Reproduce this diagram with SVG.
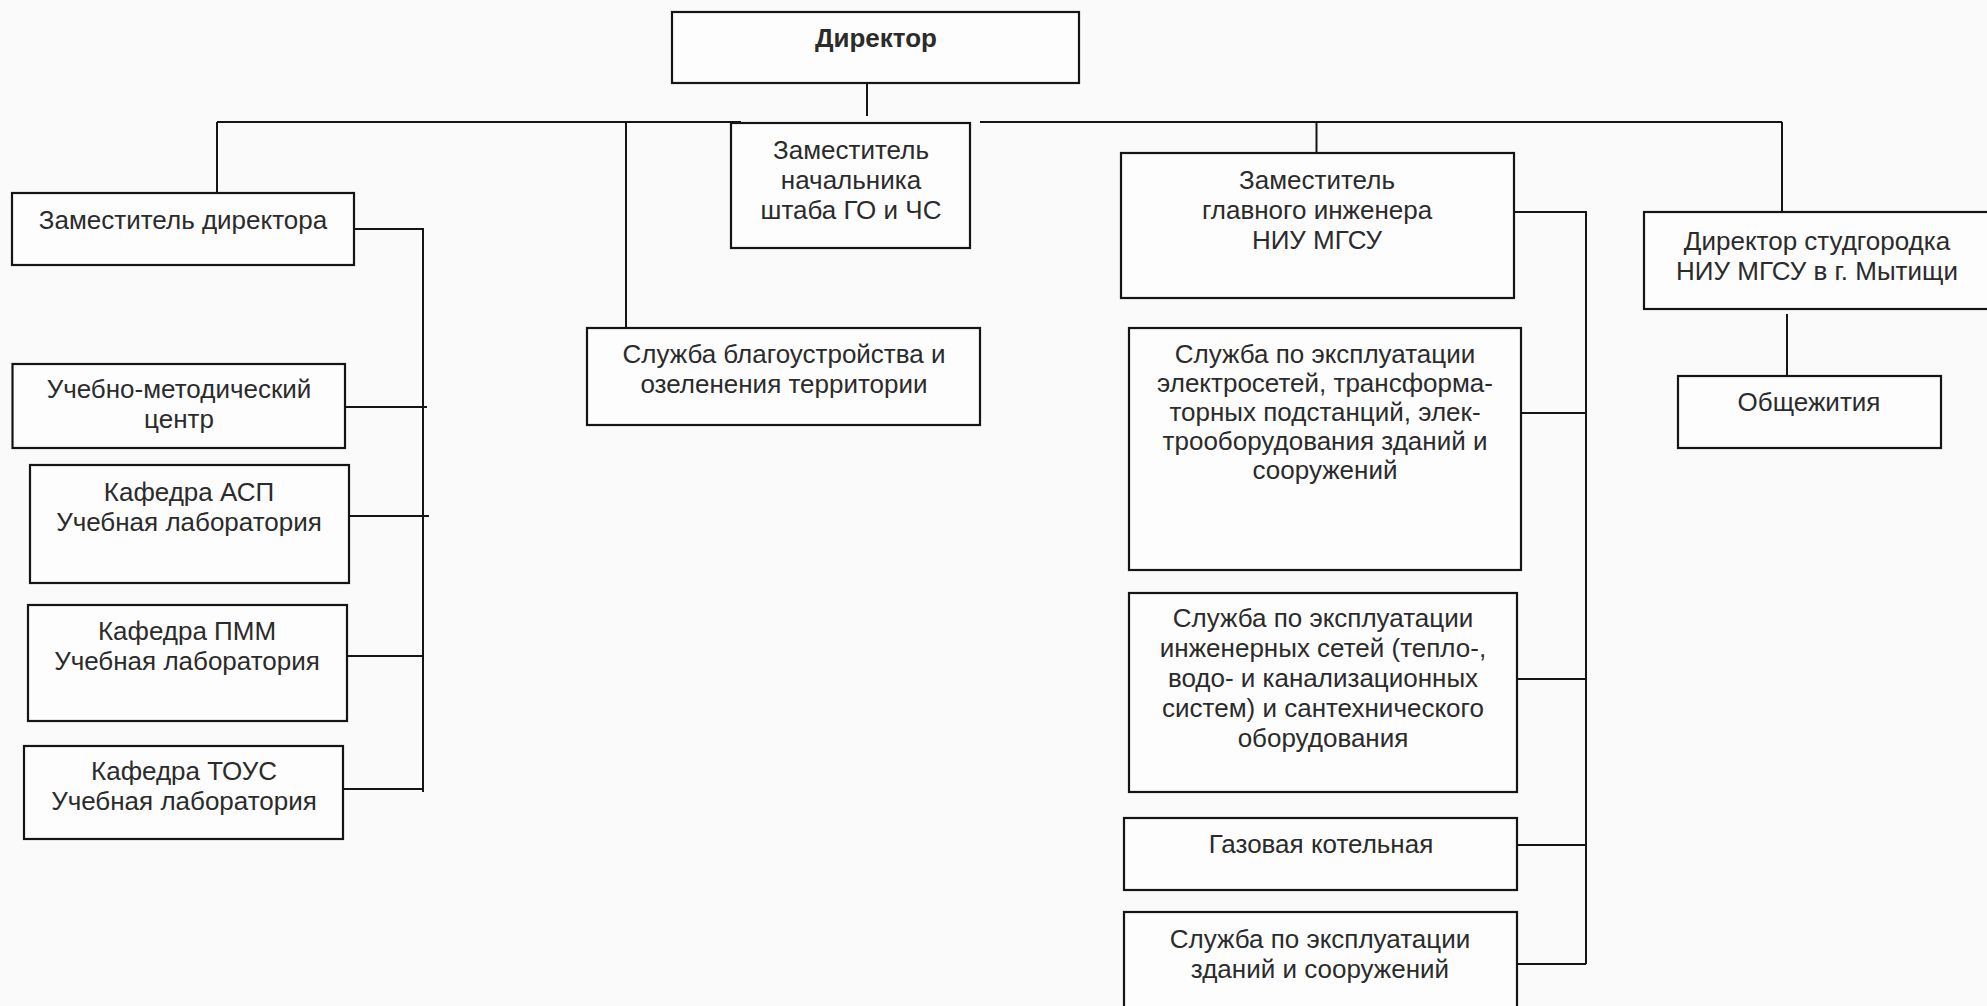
<svg xmlns="http://www.w3.org/2000/svg" width="1987" height="1006" viewBox="0 0 1987 1006">
<style>
.box{fill:#fdfdfd;stroke:#151515;stroke-width:2.2}
.t{font-family:"Liberation Sans",Arial,sans-serif;font-size:26px;fill:#2b2b2b;text-anchor:middle}
.b{font-weight:bold}
.c{fill:none;stroke:#151515;stroke-width:2}
</style>
<rect width="1987" height="1006" fill="#fafafa"/>
<g id="connectors">
<path class="c" d="M867 83 V116"/>
<path class="c" d="M217 122 H741 M980 122 H1782"/>
<path class="c" d="M217 122 V193"/>
<path class="c" d="M354 229 H423 V792"/>
<path class="c" d="M345 407 H427 M349 516 H429 M347 656 H424 M343 789 H424"/>
<path class="c" d="M626 122 V328"/>
<path class="c" d="M1316.5 122 V153"/>
<path class="c" d="M1514 212 H1586 V964"/>
<path class="c" d="M1521 413 H1587 M1517 679 H1586 M1517 845 H1586 M1517 964 H1586"/>
<path class="c" d="M1782 122 V212"/>
<path class="c" d="M1787 314 V376"/>
</g>
<g id="director"><rect class="box" x="672" y="12" width="407" height="71"/><text class="t b" x="876" y="47">Директор</text></g>
<g id="zam-go"><rect class="box" x="731" y="123" width="239" height="125"/><text class="t" x="851" y="159">Заместитель</text><text class="t" x="851" y="189">начальника</text><text class="t" x="851" y="219">штаба ГО и ЧС</text></g>
<g id="zam-director"><rect class="box" x="12" y="193" width="342" height="72"/><text class="t" x="183" y="229">Заместитель директора</text></g>
<g id="umc"><rect class="box" x="12.5" y="364" width="332.5" height="84"/><text class="t" x="179" y="398">Учебно-методический</text><text class="t" x="179" y="428">центр</text></g>
<g id="asp"><rect class="box" x="30" y="465" width="319" height="118"/><text class="t" x="189" y="501">Кафедра АСП</text><text class="t" x="189" y="531">Учебная лаборатория</text></g>
<g id="pmm"><rect class="box" x="28" y="605" width="319" height="116"/><text class="t" x="187" y="640">Кафедра ПММ</text><text class="t" x="187" y="670">Учебная лаборатория</text></g>
<g id="tous"><rect class="box" x="24" y="746" width="319" height="93"/><text class="t" x="184" y="780">Кафедра ТОУС</text><text class="t" x="184" y="810">Учебная лаборатория</text></g>
<g id="blagoustr"><rect class="box" x="587" y="328" width="393" height="97"/><text class="t" x="784" y="363">Служба благоустройства и</text><text class="t" x="784" y="393">озеленения территории</text></g>
<g id="zam-glav-ing"><rect class="box" x="1121" y="153" width="393" height="145"/><text class="t" x="1317" y="189">Заместитель</text><text class="t" x="1317" y="219">главного инженера</text><text class="t" x="1317" y="249">НИУ МГСУ</text></g>
<g id="studgorodok"><rect class="box" x="1644" y="212" width="350" height="97"/><text class="t" x="1817" y="250">Директор студгородка</text><text class="t" x="1817" y="280">НИУ МГСУ в г. Мытищи</text></g>
<g id="obshchezhitiya"><rect class="box" x="1678" y="376" width="263" height="72"/><text class="t" x="1809" y="411">Общежития</text></g>
<g id="elektroseti"><rect class="box" x="1129" y="328" width="392" height="242"/><text class="t" x="1325" y="363">Служба по эксплуатации</text><text class="t" x="1325" y="392">электросетей, трансформа-</text><text class="t" x="1325" y="421">торных подстанций, элек-</text><text class="t" x="1325" y="450">трооборудования зданий и</text><text class="t" x="1325" y="479">сооружений</text></g>
<g id="inzh-seti"><rect class="box" x="1129" y="593" width="388" height="199"/><text class="t" x="1323" y="627">Служба по эксплуатации</text><text class="t" x="1323" y="657">инженерных сетей (тепло-,</text><text class="t" x="1323" y="687">водо- и канализационных</text><text class="t" x="1323" y="717">систем) и сантехнического</text><text class="t" x="1323" y="747">оборудования</text></g>
<g id="gazovaya"><rect class="box" x="1124" y="818" width="393" height="72"/><text class="t" x="1321" y="853">Газовая котельная</text></g>
<g id="zdaniya"><rect class="box" x="1124" y="912" width="393" height="100"/><text class="t" x="1320" y="948">Служба по эксплуатации</text><text class="t" x="1320" y="978">зданий и сооружений</text></g>
</svg>
